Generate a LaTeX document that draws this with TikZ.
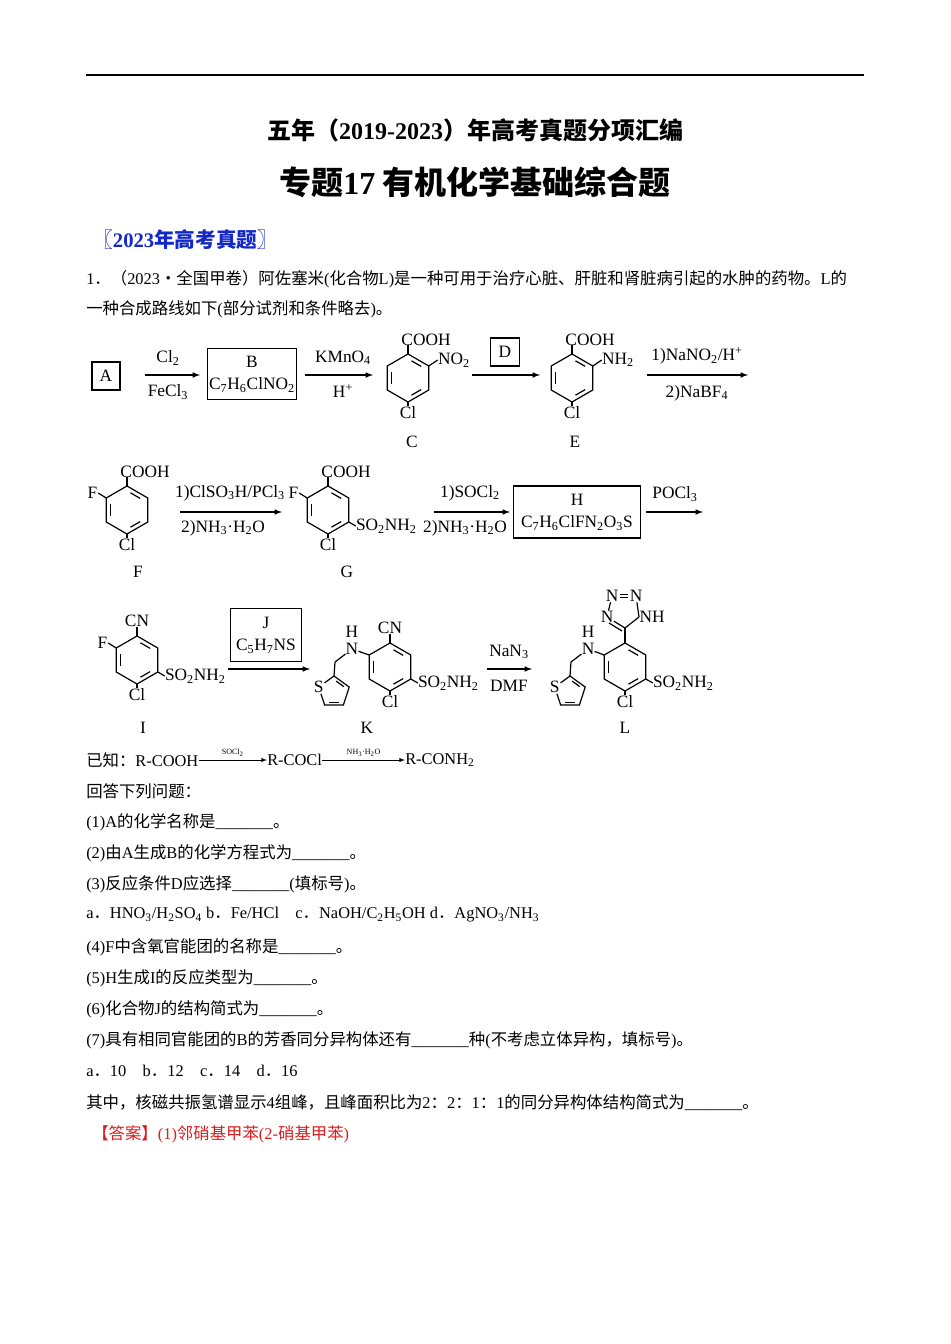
\documentclass[tikz,border=0pt]{standalone}
\usepackage{fontspec}
\setmainfont{Liberation Serif}
\newfontfamily\cjk{Noto Sans CJK SC}
\usetikzlibrary{calc}
\newcommand\zh[1]{{\cjk #1}}
\newcommand\sub[1]{\textsubscript{#1}}
\newcommand\ring[3]{%
 \coordinate (#1) at (#2,#3);
 \coordinate (#1-1) at ($(#1)+(-90:24)$);
 \coordinate (#1-2) at ($(#1)+(-30:24)$);
 \coordinate (#1-3) at ($(#1)+(30:24)$);
 \coordinate (#1-4) at ($(#1)+(90:24)$);
 \coordinate (#1-5) at ($(#1)+(150:24)$);
 \coordinate (#1-6) at ($(#1)+(210:24)$);
 \draw[bond] (#1-1)--(#1-2)--(#1-3)--(#1-4)--(#1-5)--(#1-6)--cycle;
 \draw[bond,shorten >=3,shorten <=3] ($(#1-6)!.2!(#1)$)--($(#1-5)!.2!(#1)$);
 \draw[bond,shorten >=3,shorten <=3] ($(#1-1)!.2!(#1)$)--($(#1-2)!.2!(#1)$);
 \draw[bond,shorten >=3,shorten <=3] ($(#1-3)!.2!(#1)$)--($(#1-4)!.2!(#1)$);}
\newcommand\thio[3]{%
 \coordinate (#1) at (#2,#3);
 \foreach \i/\a in {1/198,2/270,3/342,4/54,5/126}{\coordinate (#1-\i) at ($(#1)+(\a:16)$);}
 \node[chem,inner sep=0.5pt] (#1-S) at (#1-1) {S};
 \draw[bond] (#1-S)--(#1-2)--(#1-3)--(#1-4)--(#1-5)--(#1-S);
 \draw[bond,shorten >=2,shorten <=2] ($(#1-2)!.22!(#1)$)--($(#1-3)!.22!(#1)$);
 \draw[bond,shorten >=2,shorten <=2] ($(#1-4)!.22!(#1)$)--($(#1-5)!.22!(#1)$);}
\tikzset{bond/.style={line width=0.9pt},
 chem/.style={font=\fontsize{13}{15}\selectfont,inner sep=1pt},
 box/.style={draw,line width=0.9pt,font=\fontsize{13}{17}\selectfont,align=center,inner sep=2pt},
 arr/.style={-latex,line width=0.9pt},
 txt/.style={anchor=west,font=\fontsize{12.3}{14}\selectfont,inner sep=0pt}}
\begin{document}
\begin{tikzpicture}[x=0.75pt,y=-0.75pt]
\useasboundingbox (0,0) rectangle (950,1344);
\fill[white] (0,0) rectangle (950,1344);
\draw[line width=1.2pt] (86,75)--(864,75);
\node[font=\fontsize{18}{20}\selectfont\cjk\bfseries] (t1) at (475,130) {五年（\textrm{\textbf{2019-2023}}）年高考真题分项汇编};
\node[font=\fontsize{24}{26}\selectfont\cjk\bfseries] (t2) at (475,182) {专题\textrm{\textbf{17}} 有机化学基础综合题};
\node[txt,font=\fontsize{15.5}{17}\selectfont\bfseries,text={rgb,255:red,20;green,40;blue,200}] (t3) at (92,240) {\zh{〖}2023\zh{年高考真题〗}};
\node[txt] (q1) at (86,279) {1\zh{．（}2023\zh{·全国甲卷）阿佐塞米}(\zh{化合物}L)\zh{是一种可用于治疗心脏、肝脏和肾脏病引起的水肿的药物。}L\zh{的}};
\node[txt] (q2) at (86,309) {\zh{一种合成路线如下}(\zh{部分试剂和条件略去})\zh{。}};
% row 1
\node[box,minimum width=21,minimum height=21] (A) at (106,376) {A};
\node[box,minimum width=67,minimum height=38,inner sep=0.5pt] (B) at (252,374) {B\\C\sub{7}H\sub{6}ClNO\sub{2}};
\draw[arr] (145,375)--(200,375);
\node[chem] (cl2) at (168,358) {Cl\sub{2}}; \node[chem] (fecl3) at (168,392) {FeCl\sub{3}};
\draw[arr] (305,375)--(373,375);
\node[chem] (kmn) at (343,358) {KMnO\sub{4}}; \node[chem] (hp) at (343,391) {H\textsuperscript{+}};
\ring{C}{408}{378}
\draw[bond] (C-1)--++(0,-9) coordinate (Cc);
\node[chem,anchor=south] (Ccooh) at ($(Cc)+(18,2)$) {COOH};
\draw[bond] (C-2)--++(9,-6) coordinate (Cn);
\node[chem,anchor=west,inner sep=0pt] (Cno2) at (Cn) {NO\sub{2}};
\draw[bond] (C-4)--++(0,4) coordinate (Ccl);
\node[chem,anchor=north,inner sep=0pt] (Ccll) at (Ccl) {Cl};
\node[chem] (Clab) at (412,442) {C};
\node[box,minimum width=22,minimum height=21] (D) at (505,352) {D};
\draw[arr] (472,375)--(540,375);
\ring{E}{572}{378}
\draw[bond] (E-1)--++(0,-9) coordinate (Ec);
\node[chem,anchor=south] (Ecooh) at ($(Ec)+(18,2)$) {COOH};
\draw[bond] (E-2)--++(9,-6) coordinate (En);
\node[chem,anchor=west,inner sep=0pt] (Enh2) at (En) {NH\sub{2}};
\draw[bond] (E-4)--++(0,4) coordinate (Ecl);
\node[chem,anchor=north,inner sep=0pt] (Ecll) at (Ecl) {Cl};
\node[chem] (Elab) at (575,442) {E};
\draw[arr] (647,375)--(748,375);
\node[chem] (r1a) at (697,356) {1)NaNO\sub{2}/H\textsuperscript{+}}; \node[chem] (r1b) at (697,393) {2)NaBF\sub{4}};
% row 2
\ring{F}{127}{510}
\draw[bond] (F-1)--++(0,-9) coordinate (Fc);
\node[chem,anchor=south] (Fcooh) at ($(Fc)+(18,2)$) {COOH};
\draw[bond] (F-6)--++(-8,-5) coordinate (Ff);
\node[chem,anchor=east,inner sep=0.5pt] (Ffl) at (Ff) {F};
\draw[bond] (F-4)--++(0,4) coordinate (Fcl);
\node[chem,anchor=north,inner sep=0pt] (Fcll) at (Fcl) {Cl};
\node[chem] (Flab) at (138,572) {F};
\draw[arr] (180,512)--(282,512);
\node[chem] (r2a) at (230,493) {1)ClSO\sub{3}H/PCl\sub{3}}; \node[chem] (r2b) at (223,528) {2)NH\sub{3}·H\sub{2}O};
\ring{G}{328}{510}
\draw[bond] (G-1)--++(0,-9) coordinate (Gc);
\node[chem,anchor=south] (Gcooh) at ($(Gc)+(18,2)$) {COOH};
\draw[bond] (G-6)--++(-8,-5) coordinate (Gf);
\node[chem,anchor=east,inner sep=0.5pt] (Gfl) at (Gf) {F};
\draw[bond] (G-3)--++(7,4) coordinate (Gs);
\node[chem,anchor=west,inner sep=0pt] (Gso) at (Gs) {SO\sub{2}NH\sub{2}};
\draw[bond] (G-4)--++(0,4) coordinate (Gcl);
\node[chem,anchor=north,inner sep=0pt] (Gcll) at (Gcl) {Cl};
\node[chem] (Glab) at (347,572) {G};
\draw[arr] (434,512)--(510,512);
\node[chem] (r3a) at (470,493) {1)SOCl\sub{2}}; \node[chem,inner sep=0pt] (r3b) at (465,528) {2)NH\sub{3}·H\sub{2}O};
\node[box,minimum width=95,minimum height=39,inner sep=0.5pt] (H) at (577,512) {H\\C\sub{7}H\sub{6}ClFN\sub{2}O\sub{3}S};
\draw[arr] (646,512)--(703,512);
\node[chem] (pocl) at (675,494) {POCl\sub{3}};
% row 3
\ring{I}{137}{660}
\draw[bond] (I-1)--++(0,-9) coordinate (Ic);
\node[chem,anchor=south,inner sep=0pt] (Icn) at (Ic) {CN};
\draw[bond] (I-6)--++(-8,-5) coordinate (If);
\node[chem,anchor=east,inner sep=0.5pt] (Ifl) at (If) {F};
\draw[bond] (I-3)--++(7,4) coordinate (Is);
\node[chem,anchor=west,inner sep=0pt] (Iso) at (Is) {SO\sub{2}NH\sub{2}};
\draw[bond] (I-4)--++(0,4) coordinate (Icl);
\node[chem,anchor=north,inner sep=0pt] (Icll) at (Icl) {Cl};
\node[chem] (Ilab) at (143,728) {I};
\node[box,minimum width=53,minimum height=40,inner sep=0.5pt] (J) at (266,635) {J\\C\sub{5}H\sub{7}NS};
\draw[arr] (228,669)--(310,669);
\ring{K}{390}{667}
\draw[bond] (K-1)--++(0,-9) coordinate (Kc);
\node[chem,anchor=south,inner sep=0pt] (Kcn) at (Kc) {CN};
\draw[bond] (K-3)--++(7,4) coordinate (Ks);
\node[chem,anchor=west,inner sep=0pt] (Kso) at (Ks) {SO\sub{2}NH\sub{2}};
\draw[bond] (K-4)--++(0,4) coordinate (Kcl);
\node[chem,anchor=north,inner sep=0pt] (Kcll) at (Kcl) {Cl};
\node[chem,inner sep=0pt] (KN) at (352,649) {N};
\node[chem,inner sep=0pt] (KH) at (352,632) {H};
\draw[bond] (K-6)--(KN);
\coordinate (Kch) at (335,662);
\draw[bond] (KN)--(Kch);
\thio{Kt}{334}{692}
\draw[bond] (Kch)--(Kt-2);
\node[chem] (Klab) at (367,728) {K};
\draw[arr] (487,669)--(532,669);
\node[chem] (nan3) at (509,652) {NaN\sub{3}}; \node[chem] (dmf) at (509,686) {DMF};
\ring{L}{625}{667}
\draw[bond] (L-3)--++(7,4) coordinate (Ls);
\node[chem,anchor=west,inner sep=0pt] (Lso) at (Ls) {SO\sub{2}NH\sub{2}};
\draw[bond] (L-4)--++(0,4) coordinate (Lcl);
\node[chem,anchor=north,inner sep=0pt] (Lcll) at (Lcl) {Cl};
\node[chem,inner sep=0pt] (LN) at (588,649) {N};
\node[chem,inner sep=0pt] (LH) at (588,632) {H};
\draw[bond] (L-6)--(LN);
\coordinate (Lch) at (571,662);
\draw[bond] (LN)--(Lch);
\thio{Lt}{570}{692}
\draw[bond] (Lch)--(Lt-2);
\coordinate (Lc5) at (625,628);
\draw[bond] (L-1)--(Lc5);
\node[chem,inner sep=0.3pt] (Ln1) at (612,596) {N};
\node[chem,inner sep=0.3pt] (Ln2) at (636,596) {N};
\node[chem,inner sep=0.3pt] (Ln4) at (607,617) {N};
\node[chem,inner sep=0.3pt,anchor=west] (Ln3) at (639,617) {NH};
\draw[bond] ($(Ln1.east)+(1,-1.5)$)--($(Ln2.west)+(-1,-1.5)$);
\draw[bond] ($(Ln1.east)+(1,1.5)$)--($(Ln2.west)+(-1,1.5)$);
\draw[bond] (Ln1)--(Ln4);
\draw[bond] (Ln2)--(Ln3.west);
\draw[bond] (Ln4)--(Lc5);
\draw[bond] ($(Ln4)+(2,6)$)--($(Lc5)+(-3,3)$);
\draw[bond] (Lc5)--(Ln3.west);
\node[chem] (Llab) at (625,728) {L};
% known
\node[txt] (k0) at (86,760) {\zh{已知：}R-COOH};
\node[txt] (k1) at (267,760) {R-COCl};
\node[txt] (k2) at (405,760) {R-CONH\sub{2}};
\draw[arr,line width=0.5pt] (k0.east)--(k1.west) node[midway,above=-1pt,font=\fontsize{6}{7}\selectfont] {SOCl\sub{2}};
\draw[arr,line width=0.5pt] (k1.east)--(k2.west) node[midway,above=-1pt,font=\fontsize{6}{7}\selectfont] {NH\sub{3}·H\sub{2}O};
\node[txt] (l1) at (86,791) {\zh{回答下列问题：}};
\node[txt] (l2) at (86,822) {(1)A\zh{的化学名称是}\_\_\_\_\_\_\_\zh{。}};
\node[txt] (l3) at (86,853) {(2)\zh{由}A\zh{生成}B\zh{的化学方程式为}\_\_\_\_\_\_\_\zh{。}};
\node[txt] (l4) at (86,884) {(3)\zh{反应条件}D\zh{应选择}\_\_\_\_\_\_\_(\zh{填标号})\zh{。}};
\node[txt] (l5) at (86,915) {a\zh{．}HNO\sub{3}/H\sub{2}SO\sub{4} b\zh{．}Fe/HCl\quad c\zh{．}NaOH/C\sub{2}H\sub{5}OH d\zh{．}AgNO\sub{3}/NH\sub{3}};
\node[txt] (l6) at (86,947) {(4)F\zh{中含氧官能团的名称是}\_\_\_\_\_\_\_\zh{。}};
\node[txt] (l7) at (86,978) {(5)H\zh{生成}I\zh{的反应类型为}\_\_\_\_\_\_\_\zh{。}};
\node[txt] (l8) at (86,1009) {(6)\zh{化合物}J\zh{的结构简式为}\_\_\_\_\_\_\_\zh{。}};
\node[txt] (l9) at (86,1040) {(7)\zh{具有相同官能团的}B\zh{的芳香同分异构体还有}\_\_\_\_\_\_\_\zh{种}(\zh{不考虑立体异构，填标号})\zh{。}};
\node[txt] (l10) at (86,1071) {a\zh{．}10\quad b\zh{．}12\quad c\zh{．}14\quad d\zh{．}16};
\node[txt] (l11) at (86,1103) {\zh{其中，核磁共振氢谱显示}4\zh{组峰，且峰面积比为}2\zh{：}2\zh{：}1\zh{：}1\zh{的同分异构体结构简式为}\_\_\_\_\_\_\_\zh{。}};
\node[txt,text={rgb,255:red,220;green,30;blue,30}] (ans) at (92,1134) {\zh{【答案】}(1)\zh{邻硝基甲苯}(2-\zh{硝基甲苯})};
\end{tikzpicture}
\end{document}
